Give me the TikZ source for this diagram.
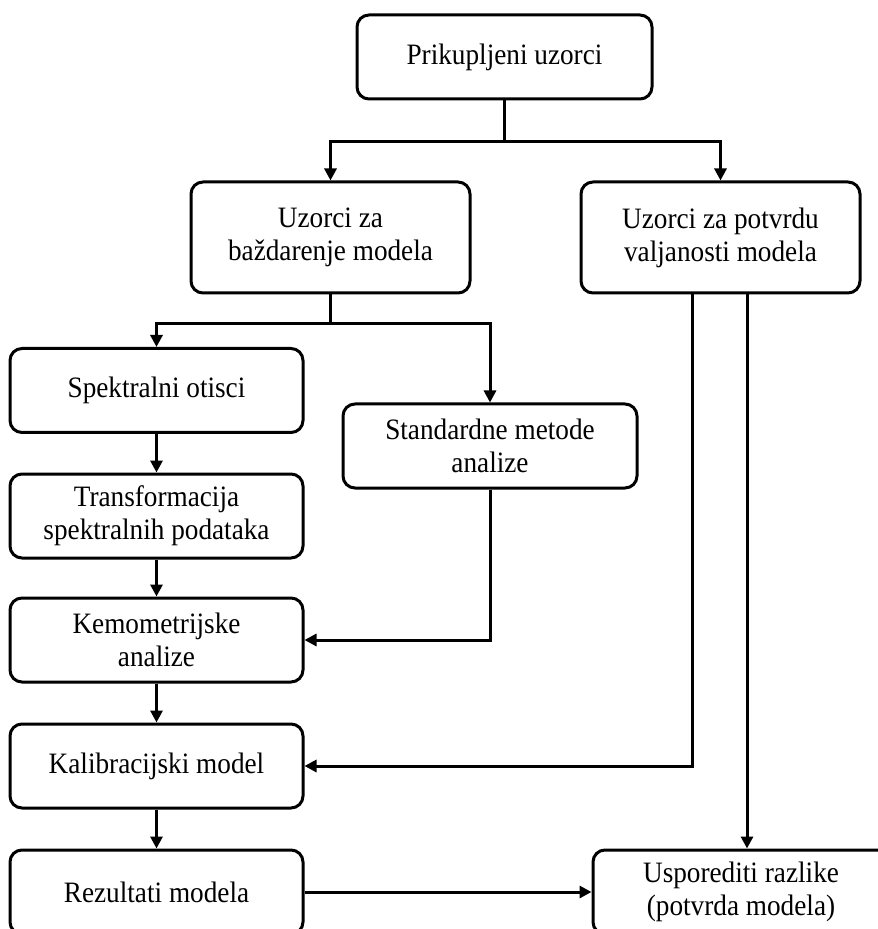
\documentclass[tikz,border=0pt]{standalone}
\usepackage{fontspec}
\setmainfont{Liberation Serif}[FakeStretch=0.92]
\usetikzlibrary{arrows.meta, positioning, calc}

\begin{document}
\begin{tikzpicture}[x=0.5pt, y=0.5pt,
	box/.style={draw, line width=1.5pt, rounded corners=6pt, align=center, inner sep=0pt,
		minimum height=42pt, minimum width=146.5pt, font=\fontsize{14.8}{16.5}\selectfont},
	arr/.style={line width=1.5pt, -{Triangle[length=6pt,width=6pt]}}]
	\useasboundingbox (0,0) rectangle (877,-929);
	\node[box, minimum width=147.5pt] (prik) at (504.5,-57) {Prikupljeni uzorci};
	\node[box, minimum width=139.5pt, minimum height=55.5pt] (uzcal) at (330.5,-237.5) {Uzorci za\\baždarenje modela};
	\node[box, minimum width=139.5pt, minimum height=55.5pt] (uzval) at (720.5,-237.5) {Uzorci za potvrdu\\valjanosti modela};
	\node[box] (spek) at (156.5,-390.5) {Spektralni otisci};
	\node[box] (trans) at (156.5,-516) {Transformacija\\spektralnih podataka};
	\node[box] (kemo) at (156.5,-640) {Kemometrijske\\analize};
	\node[box] (kalib) at (156.5,-766) {Kalibracijski model};
	\node[box] (rez) at (156.5,-892) {Rezultati modela};
	\node[box, minimum width=147pt] (stand) at (490,-446) {Standardne metode\\analize};
	\node[box, minimum width=148pt] (uspor) at (741,-892) {Usporediti razlike\\(potvrda modela)};
	\coordinate (v1) at ($(uzval.south)+(-28.5,0)$);
	\coordinate (v2) at ($(uzval.south)+(26.5,0)$);

	\draw[arr] (prik.south) -- ++(0,-41) -| (uzcal.north);
	\draw[arr] (prik.south) -- ++(0,-41) -| (uzval.north);
	\draw[arr] (uzcal.south) -- ++(0,-29) -| (spek.north);
	\draw[arr] (uzcal.south) -- ++(0,-29) -| (stand.north);
	\draw[arr] (spek) -- (trans);
	\draw[arr] (trans) -- (kemo);
	\draw[arr] (kemo) -- (kalib);
	\draw[arr] (kalib) -- (rez);
	\draw[arr] (stand.south) |- (kemo.east);
	\draw[arr] (v1) |- (kalib.east);
	\draw[arr] (v2) -- (v2 |- uspor.north);
	\draw[arr] (rez) -- (uspor);
\end{tikzpicture}
\end{document}
